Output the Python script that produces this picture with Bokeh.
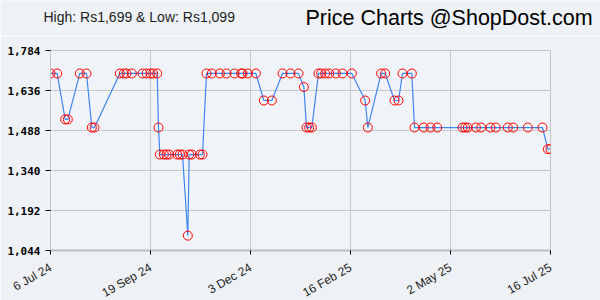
import math
import pandas as pd
from bokeh.plotting import figure
from bokeh.layouts import column
from bokeh.models import Range1d, FixedTicker, NumeralTickFormatter, ColumnDataSource
from bokeh.core.properties import value
from bokeh.embed import file_html
from bokeh.resources import INLINE

dates = ["2024-07-06", "2024-07-11", "2024-07-17", "2024-07-19", "2024-07-28", "2024-08-02",
         "2024-08-06", "2024-08-08", "2024-08-27", "2024-08-30", "2024-09-01", "2024-09-05",
         "2024-09-13", "2024-09-16", "2024-09-19", "2024-09-21", "2024-09-24", "2024-09-25",
         "2024-09-26", "2024-09-29", "2024-10-01", "2024-10-03", "2024-10-09", "2024-10-11",
         "2024-10-13", "2024-10-17", "2024-10-18", "2024-10-20", "2024-10-26", "2024-10-28",
         "2024-10-31", "2024-11-04", "2024-11-10", "2024-11-15", "2024-11-21", "2024-11-26",
         "2024-11-27", "2024-12-01", "2024-12-07", "2024-12-13", "2024-12-19", "2024-12-27",
         "2025-01-02", "2025-01-08", "2025-01-12", "2025-01-14", "2025-01-16", "2025-01-18",
         "2025-01-23", "2025-01-25", "2025-01-28", "2025-01-31", "2025-02-05", "2025-02-10",
         "2025-02-17", "2025-02-27", "2025-03-01", "2025-03-11", "2025-03-14", "2025-03-21",
         "2025-03-24", "2025-03-27", "2025-04-03", "2025-04-05", "2025-04-12", "2025-04-17",
         "2025-04-22", "2025-05-11", "2025-05-13", "2025-05-15", "2025-05-21", "2025-05-25",
         "2025-06-01", "2025-06-05", "2025-06-14", "2025-06-18", "2025-06-29", "2025-07-10",
         "2025-07-14", "2025-07-16"]
prices = [1699, 1699, 1529, 1529, 1699, 1699,
          1499, 1499, 1699, 1699, 1699, 1699,
          1699, 1699, 1699, 1699, 1699, 1499,
          1399, 1399, 1399, 1399, 1399, 1399,
          1399, 1099, 1399, 1399, 1399, 1399,
          1699, 1699, 1699, 1699, 1699, 1699,
          1699, 1699, 1699, 1599, 1599, 1699,
          1699, 1699, 1649, 1499, 1499, 1499,
          1699, 1699, 1699, 1699, 1699, 1699,
          1699, 1599, 1499, 1699, 1699, 1599,
          1599, 1699, 1699, 1499, 1499, 1499,
          1499, 1499, 1499, 1499, 1499, 1499,
          1499, 1499, 1499, 1499, 1499, 1499,
          1419, 1419]

tick_dates = ["2024-07-06", "2024-09-19", "2024-12-03", "2025-02-16", "2025-05-02", "2025-07-16"]
tick_labels = ["6 Jul 24", "19 Sep 24", "3 Dec 24", "16 Feb 25", "2 May 25", "16 Jul 25"]
y_ticks = [1044, 1192, 1340, 1488, 1636, 1784]

title_left = "High: Rs1,699 & Low: Rs1,099"
title_right = "Price Charts @ShopDost.com"

BG = "#eef2f6"

start = pd.Timestamp(tick_dates[0])
xd = [(pd.Timestamp(d) - start).days for d in dates]
xt = [(pd.Timestamp(d) - start).days for d in tick_dates]

src = ColumnDataSource(dict(x=xd, y=prices))

# header strip with the two title texts
h = figure(width=600, height=35, output_backend="svg", toolbar_location=None,
           x_range=Range1d(0, 600), y_range=Range1d(35, 0),
           min_border=0, min_border_left=0, min_border_right=0,
           min_border_top=0, min_border_bottom=0)
h.frame_align = False
h.axis.visible = False
h.grid.visible = False
h.outline_line_color = None
h.background_fill_color = BG
h.border_fill_color = BG
h.text(x=[43], y=[16], text=[title_left], text_baseline="middle", text_align="left",
       text_font=value("Liberation Sans"), text_font_size="14px", text_color="#222222")
h.text(x=[305], y=[17], text=[title_right], text_baseline="middle", text_align="left",
       text_font=value("Liberation Sans"), text_font_size="21.5px", text_color="#000000")

p = figure(width=600, height=265, output_backend="svg", toolbar_location=None,
           x_range=Range1d(xt[0], xt[-1]), y_range=Range1d(y_ticks[0], y_ticks[-1]),
           min_border_left=50, min_border_right=50, min_border_top=15, min_border_bottom=50)
p.frame_width = 500
p.frame_height = 200
p.frame_align = False
p.background_fill_color = "#f0f3f7"
p.border_fill_color = BG
p.outline_line_color = "#c4c4c4"

p.line("x", "y", source=src, line_color="#3f86ef", line_width=1.2)
p.scatter("x", "y", source=src, size=9, fill_alpha=0, line_color="#ff0000", line_width=1)

p.xaxis.ticker = FixedTicker(ticks=xt)
p.xaxis.major_label_overrides = {t: l for t, l in zip(xt, tick_labels)}
p.xaxis.major_label_orientation = math.radians(30)
p.xaxis.major_label_standoff = 12
p.xaxis.major_label_text_font = "Liberation Sans"
p.xaxis.major_label_text_font_size = "12px"
p.xaxis.major_label_text_color = "#222222"
p.xaxis.axis_line_color = "#bdbdbd"
p.xaxis.axis_line_width = 2
p.xaxis.major_tick_line_color = "#000000"
p.xaxis.major_tick_in = 0
p.xaxis.major_tick_out = 4
p.xaxis.minor_tick_line_color = None

p.yaxis.ticker = FixedTicker(ticks=y_ticks)
p.yaxis.formatter = NumeralTickFormatter(format="0,0")
p.yaxis.major_label_text_font = "DejaVu Sans Mono"
p.yaxis.major_label_text_font_style = "bold"
p.yaxis.major_label_text_font_size = "11px"
p.yaxis.major_label_text_color = "#000000"
p.yaxis.axis_line_color = "#c4c4c4"
p.yaxis.major_tick_line_color = "#000000"
p.yaxis.major_tick_in = 0
p.yaxis.major_tick_out = 5
p.yaxis.minor_tick_line_color = None
p.yaxis.major_label_standoff = 5

p.xgrid.ticker = FixedTicker(ticks=xt)
p.ygrid.ticker = FixedTicker(ticks=y_ticks)
p.grid.grid_line_color = "#c8c8c8"
p.grid.grid_line_width = 1

layout = column(h, p, spacing=0)
open("out.html", "w").write(file_html(layout, INLINE))
